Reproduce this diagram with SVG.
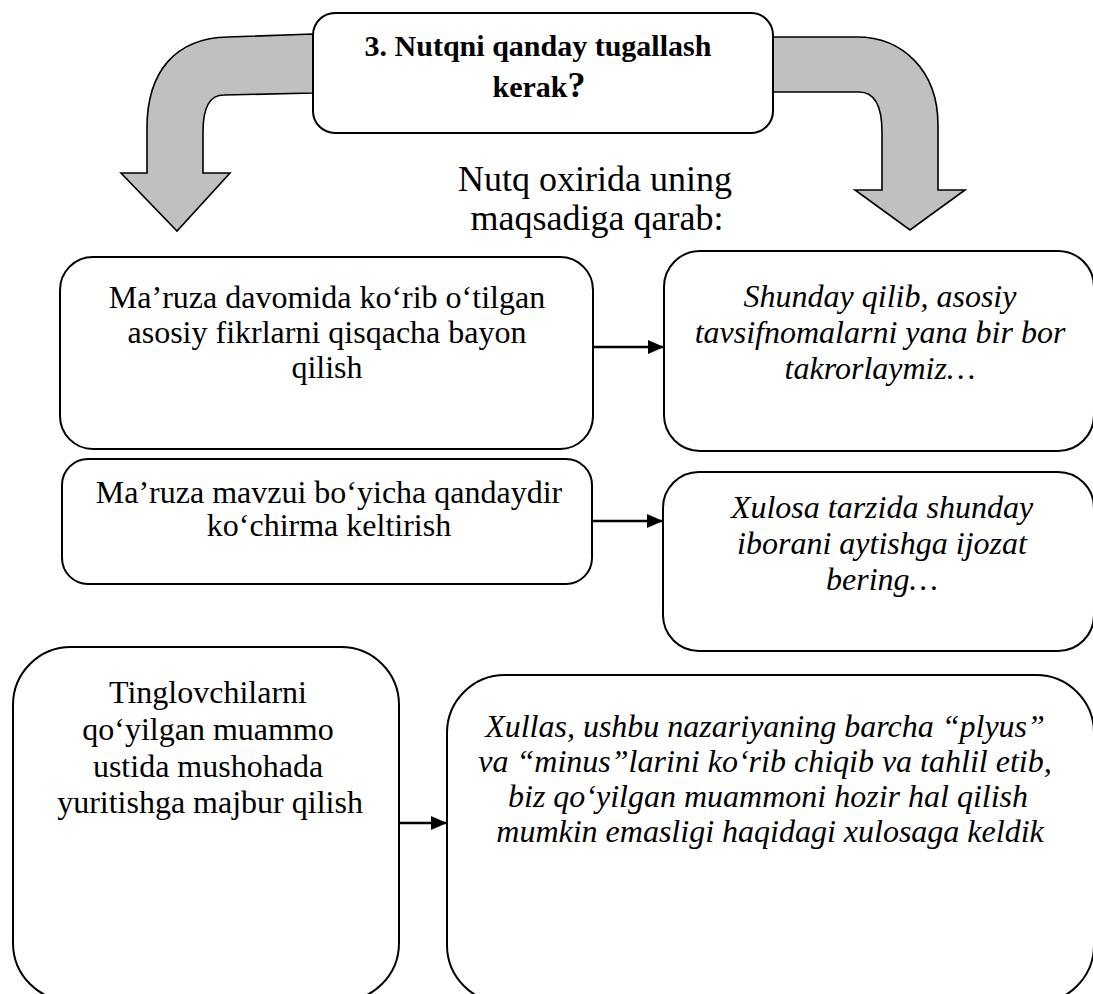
<svg xmlns="http://www.w3.org/2000/svg" width="1093" height="994" viewBox="0 0 1093 994">
<defs>
<style>
.box{fill:#fff;stroke:#000;stroke-width:2}
.bigarrow{fill:#c0c0c0;stroke:#000;stroke-width:1.6;stroke-linejoin:miter}
.t{font-family:"Liberation Serif","Times New Roman",serif;font-size:32px;fill:#000;text-anchor:middle}
.i{font-style:italic}
.b{font-weight:bold;font-size:30px}
.sub{font-size:36px}
.conn{stroke:#000;stroke-width:2.5;fill:none}
</style>
<marker id="ah" markerUnits="userSpaceOnUse" markerWidth="18" markerHeight="16" refX="16" refY="8" orient="auto">
<path d="M0,1 L16,8 L0,15 Z" fill="#000"/>
</marker>
</defs>
<rect width="1093" height="994" fill="#fff"/>

<g id="bigarrows">
<path class="bigarrow" d="M313,34 L228,37 C175,38 147,72 147,128 L147,173 L121,173 L177,231 L230,173 L203,173 L203,132 C203,106 210,95 224,95 L313,93 Z"/>
<path class="bigarrow" d="M772,37 L857,37 C902,37 938,70 938,125 L938,190 L965,190 L910,230 L855,190 L882,190 L882,132 C882,106 875,92 859,92 L772,92 Z"/>
</g>

<g id="title">
<rect class="box" x="313" y="13" width="460" height="120" rx="22"/>
<text class="t b" x="538" y="56">3. Nutqni qanday tugallash</text>
<text class="t b" x="539" y="97">kerak<tspan font-size="36">?</tspan></text>
</g>

<g id="subtitle">
<text class="t sub" x="595" y="191">Nutq oxirida uning</text>
<text class="t sub" x="597" y="230">maqsadiga qarab:</text>
</g>

<g id="connectors">
<line class="conn" x1="593" y1="347" x2="664" y2="347" marker-end="url(#ah)"/>
<line class="conn" x1="592" y1="521" x2="663" y2="521" marker-end="url(#ah)"/>
<line class="conn" x1="399" y1="823" x2="447" y2="823" marker-end="url(#ah)"/>
</g>

<g id="node1">
<rect class="box" x="60" y="257" width="533" height="192" rx="33"/>
<text class="t" x="327" y="308">Ma’ruza davomida ko‘rib o‘tilgan</text>
<text class="t" x="327" y="343">asosiy fikrlarni qisqacha bayon</text>
<text class="t" x="327" y="378">qilish</text>
</g>

<g id="node2">
<rect class="box" x="664" y="251" width="430" height="200" rx="36"/>
<text class="t i" x="880" y="307">Shunday qilib, asosiy</text>
<text class="t i" x="880" y="343">tavsifnomalarni yana bir bor</text>
<text class="t i" x="880" y="379">takrorlaymiz…</text>
</g>

<g id="node3">
<rect class="box" x="62" y="459" width="530" height="125" rx="26"/>
<text class="t" x="329" y="503">Ma’ruza mavzui bo‘yicha qandaydir</text>
<text class="t" x="329" y="536">ko‘chirma keltirish</text>
</g>

<g id="node4">
<rect class="box" x="663" y="472" width="431" height="179" rx="36"/>
<text class="t i" x="882" y="518">Xulosa tarzida shunday</text>
<text class="t i" x="882" y="554">iborani aytishga ijozat</text>
<text class="t i" x="882" y="590">bering…</text>
</g>

<g id="node5">
<rect class="box" x="13" y="647" width="386" height="354" rx="58"/>
<text class="t" x="208" y="703">Tinglovchilarni</text>
<text class="t" x="208" y="740">qo‘yilgan muammo</text>
<text class="t" x="208" y="777">ustida mushohada</text>
<text class="t" x="210" y="813">yuritishga majbur qilish</text>
</g>

<g id="node6">
<rect class="box" x="447" y="675" width="647" height="328" rx="58"/>
<text class="t i" x="765" y="737">Xullas, ushbu nazariyaning barcha “plyus”</text>
<text class="t i" x="765" y="772">va “minus”larini ko‘rib chiqib va tahlil etib,</text>
<text class="t i" x="768" y="807">biz qo‘yilgan muammoni hozir hal qilish</text>
<text class="t i" x="770" y="842">mumkin emasligi haqidagi xulosaga keldik</text>
</g>
</svg>
